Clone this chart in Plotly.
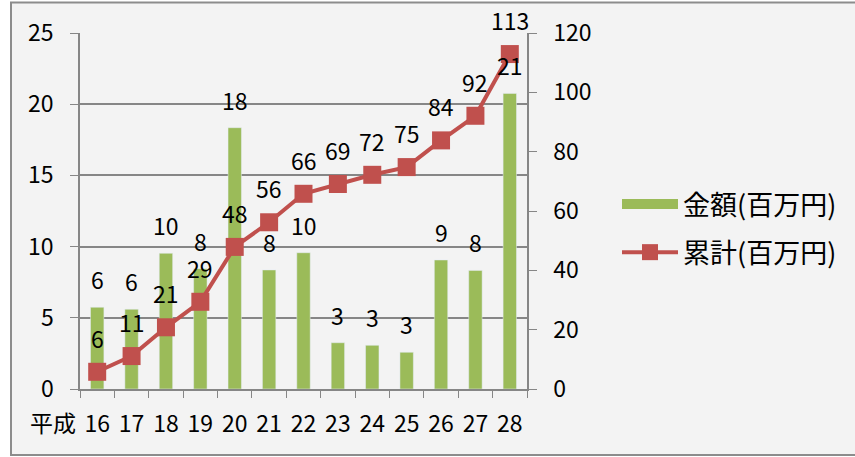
import plotly.graph_objects as go

era = "平成"
years = ["16", "17", "18", "19", "20", "21", "22", "23", "24", "25", "26", "27", "28"]
amount = [5.74, 5.6, 9.53, 8.45, 18.35, 8.36, 9.57, 3.25, 3.07, 2.58, 9.06, 8.33, 20.76]
cumulative = [5.8, 11.1, 20.8, 29.4, 47.9, 56.2, 65.8, 69.1, 72.2, 74.8, 83.8, 92.1, 112.9]
name_amount = "金額(百万円)"
name_cum = "累計(百万円)"

GREEN = "#9BBB59"
RED = "#C0504D"
AXIS = "#868686"
FONT = "Noto Sans CJK JP"

W, H = 855, 457
ML, MR, MT, MB = 80, 328, 33, 68
PW, PH = W - ML - MR, H - MT - MB


def px_x(p):
    return (p - ML) / PW


def px_y(p):
    return (H - MB - p) / PH


fig = go.Figure()
fig.add_trace(go.Bar(
    x=years, y=amount, name=name_amount, marker_color=GREEN, width=0.39,
    showlegend=False, yaxis="y",
))
# legend entry for the bars (wide swatch like the reference)
fig.add_trace(go.Scatter(
    x=[None], y=[None], name=name_amount, mode="lines",
    line=dict(color=GREEN, width=14), legendgroup="a", yaxis="y",
))
fig.add_trace(go.Scatter(
    x=years, y=cumulative, name=name_cum, mode="lines+markers",
    line=dict(color=RED, width=4), marker=dict(symbol="square", size=18, color=RED),
    legendgroup="b", yaxis="y2",
))

ann = []
for i, v in enumerate(amount):
    ann.append(dict(x=i, y=v, xref="x", yref="y", text=f"{round(v)}", showarrow=False,
                    yanchor="middle", yshift=28, font=dict(size=23, color="#000", family=FONT)))
for i, v in enumerate(cumulative):
    ann.append(dict(x=i, y=v, xref="x", yref="y2", text=f"{round(v)}", showarrow=False,
                    yanchor="middle", yshift=34, font=dict(size=23, color="#000", family=FONT)))
ann.append(dict(x=0, y=px_y(422), xref="x", yref="paper", text=era, showarrow=False,
                xanchor="right", yanchor="middle", xshift=-19,
                font=dict(size=23, color="#000", family=FONT)))

fig.update_layout(
    width=W, height=H,
    margin=dict(l=ML, r=MR, t=MT, b=MB),
    paper_bgcolor="white", plot_bgcolor="rgba(0,0,0,0)",
    font=dict(family=FONT, size=23, color="#000"),
    showlegend=True,
    legend=dict(x=px_x(617), y=px_y(180), xanchor="left", yanchor="top",
                traceorder="grouped", tracegroupgap=10,
                font=dict(size=27, family=FONT), itemwidth=56, bgcolor="rgba(0,0,0,0)"),
    xaxis=dict(type="category", tickson="boundaries", ticks="outside", ticklen=7,
               tickcolor=AXIS, showline=True, linecolor=AXIS, linewidth=1.5,
               showgrid=False, tickfont=dict(size=23), tickangle=0, automargin=False,
               range=[-0.5, len(years) - 0.5], ticklabelstandoff=14),
    yaxis=dict(range=[0, 25], dtick=5, ticks="outside", ticklen=8, tickcolor=AXIS,
               showline=True, linecolor=AXIS, linewidth=1.5, showgrid=True,
               gridcolor=AXIS, gridwidth=1.5, zeroline=False, tickfont=dict(size=23),
               automargin=False, ticklabelstandoff=12),
    yaxis2=dict(range=[0, 120], dtick=20, overlaying="y", side="right", ticks="outside",
                ticklen=8, tickcolor=AXIS, showline=True, linecolor=AXIS, linewidth=1.5,
                showgrid=False, zeroline=False, tickfont=dict(size=23), automargin=False,
                ticklabelstandoff=12),
    annotations=ann,
    shapes=[dict(type="rect", xref="paper", yref="paper", x0=px_x(11), x1=px_x(870),
                 y0=px_y(455), y1=px_y(2.5), line=dict(color="#8C8C8C", width=2),
                 fillcolor="#F3F3F3", layer="below")],
)

fig.write_html("out.html", config={"displayModeBar": False},
               post_script="document.body.style.margin='0';")
